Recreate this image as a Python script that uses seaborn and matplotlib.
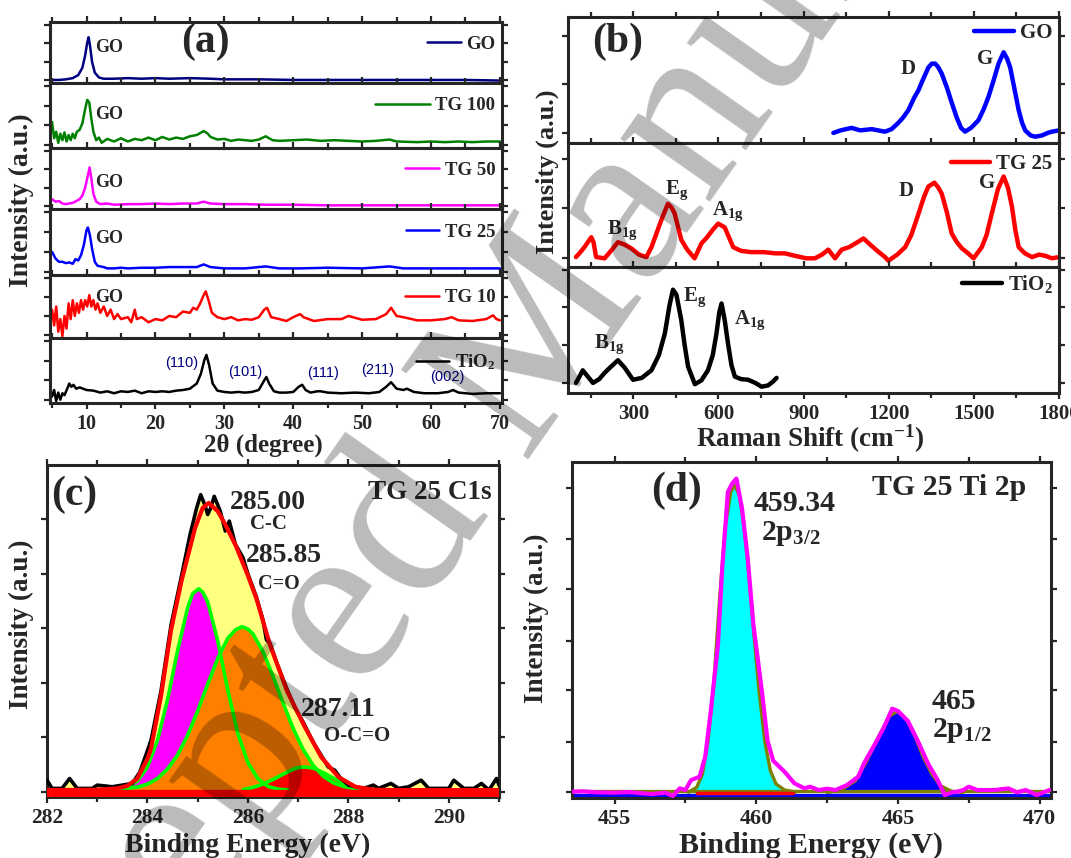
import matplotlib
matplotlib.use('Agg')
import matplotlib.pyplot as plt
import seaborn as sns
from matplotlib.ticker import MultipleLocator

# ---------------- data ----------------
# (a) XRD, each trace normalised to its own strip
xrd_go = [(5, .05), (6, .05), (7, .06), (8, .08), (8.8, .13), (9.4, .25), (9.8, .45), (10.1, .66), (10.3, .75),
          (10.5, .62), (10.8, .35), (11.2, .17), (11.8, .09), (12.5, .07), (14, .07), (16, .08), (18, .07), (20, .08),
          (22, .07), (25, .08), (28, .07), (30, .06), (35, .06), (40, .05), (45, .05), (50, .05), (55, .05), (60, .05),
          (65, .05), (70, .04)]
xrd_tg100 = [(5.0, .40), (5.3, .15), (5.6, .25), (5.9, .08), (6.2, .22), (6.5, .12), (6.8, .24), (7.1, .10), (7.4, .20),
             (7.7, .12), (8.0, .22), (8.3, .15), (8.6, .25), (9.0, .28), (9.4, .38), (9.8, .60), (10.1, .74), (10.4, .70),
             (10.7, .45), (11.0, .25), (11.4, .12), (11.8, .16), (12.2, .08), (13, .14), (14, .10), (15, .15), (16, .10),
             (17, .14), (18, .12), (19, .16), (20, .12), (21, .17), (22, .13), (23, .16), (24, .14), (25, .18), (26, .20),
             (27, .26), (27.5, .23), (28, .17), (29, .13), (30, .14), (31, .11), (32, .13), (33, .12), (34, .11), (35, .13),
             (36, .18), (37, .12), (38, .11), (40, .12), (42, .13), (44, .11), (46, .12), (48, .11), (50, .10), (52, .11),
             (54, .13), (55, .10), (58, .09), (60, .10), (62, .09), (64, .10), (66, .09), (68, .10), (70, .10)]
xrd_tg50 = [(5, .16), (5.5, .12), (6, .13), (6.5, .09), (7, .08), (7.5, .09), (8, .10), (8.5, .13), (9, .16), (9.4, .22),
            (9.8, .35), (10.2, .55), (10.45, .68), (10.7, .50), (11, .25), (11.4, .12), (12, .08), (13, .09), (14, .07),
            (16, .08), (18, .08), (20, .09), (22, .08), (24, .09), (26, .09), (27, .12), (28, .09), (30, .08), (33, .08),
            (36, .07), (40, .07), (45, .06), (50, .06), (55, .06), (60, .06), (65, .06), (70, .06)]
xrd_tg25 = [(5, .35), (5.5, .25), (6, .20), (6.5, .20), (7, .18), (7.5, .19), (8, .17), (8.4, .24), (8.8, .22), (9.2, .30),
            (9.6, .45), (10.0, .68), (10.2, .72), (10.5, .60), (10.8, .40), (11.2, .20), (11.6, .14), (12, .13),
            (12.5, .12), (13, .10), (14, .10), (15, .11), (16, .10), (18, .11), (20, .11), (22, .12), (24, .12), (26, .12),
            (27, .16), (28, .12), (30, .10), (33, .10), (36, .13), (38, .10), (41, .10), (45, .11), (50, .10), (54, .13),
            (56, .10), (60, .10), (65, .10), (70, .10)]
xrd_tg10 = [(5.0, .45), (5.3, .20), (5.6, .50), (5.9, .10), (6.2, .30), (6.5, .03), (6.8, .35), (7.1, .15), (7.4, .55),
            (7.7, .30), (8.0, .60), (8.3, .35), (8.6, .55), (8.9, .40), (9.2, .60), (9.5, .45), (9.8, .60), (10.1, .50),
            (10.4, .68), (10.7, .50), (11.0, .60), (11.3, .45), (11.6, .55), (12.0, .40), (12.5, .50), (13, .35),
            (13.5, .45), (14, .30), (14.5, .38), (15, .30), (16, .33), (16.5, .25), (17, .45), (17.3, .30), (18, .33),
            (19, .25), (20, .30), (21, .28), (22, .35), (23, .33), (24, .42), (25, .40), (25.5, .48), (26, .45),
            (26.5, .55), (27.0, .68), (27.3, .74), (27.7, .60), (28.2, .40), (29, .33), (30, .30), (31, .33), (32, .28),
            (33, .30), (34, .29), (35, .33), (35.8, .45), (36.2, .48), (36.8, .33), (38, .30), (39, .27), (40, .33),
            (41, .38), (41.5, .33), (43, .27), (45, .30), (47, .30), (48, .35), (50, .29), (52, .30), (53.5, .38),
            (54.2, .48), (55, .35), (56, .33), (58, .28), (60, .28), (62, .30), (63, .33), (64, .28), (66, .27), (68, .30),
            (69, .36), (69.5, .30), (70, .28)]
xrd_tio2 = [(5, .10), (5.3, .20), (5.6, .03), (5.9, .16), (6.2, .05), (6.5, .15), (6.8, .12), (7.2, .22), (7.5, .30),
            (7.8, .25), (8.1, .28), (8.5, .22), (9, .24), (10, .20), (11, .19), (12, .16), (13, .18), (14, .15), (15, .18),
            (16, .17), (17, .19), (18, .15), (19, .18), (20, .17), (21, .18), (22, .17), (23, .19), (24, .20), (25, .22),
            (26, .30), (26.6, .45), (27.1, .66), (27.4, .74), (27.8, .58), (28.3, .30), (29, .19), (30, .17), (31, .16),
            (32, .17), (33, .16), (34, .17), (35, .20), (35.8, .35), (36.1, .40), (36.5, .30), (37.2, .18), (38, .16),
            (39, .16), (40, .17), (40.8, .25), (41.3, .28), (41.8, .20), (42.5, .16), (43.5, .18), (44, .18), (45, .16),
            (47, .15), (49, .16), (51, .15), (52.5, .17), (53.5, .25), (54.2, .32), (55, .22), (56, .20), (56.5, .22),
            (57.5, .17), (59, .15), (61, .15), (62.5, .17), (63.2, .20), (64, .16), (66, .14), (68, .15), (70, .15)]
xrd_names = ['GO', 'TG 100', 'TG 50', 'TG 25', 'TG 10', 'TiO$_2$']
xrd_colors = ['#000080', '#008000', '#FF00FF', '#0000FF', '#FF0000', '#000000']
go_label_y = [0.59, 0.51, 0.44, 0.56, 0.65]
miller = ['(110)', '(101)', '(111)', '(211)', '(002)']
miller_x = [23.8, 33.0, 44.3, 52.3, 62.3]
miller_y = [0.62, 0.48, 0.46, 0.51, 0.40]

# (b) Raman
raman_go = [(1005, .08), (1030, .10), (1069, .12), (1100, .10), (1140, .11), (1187, .09), (1210, .11), (1234, .16),
            (1250, .20), (1269, .26), (1290, .36), (1305, .42), (1320, .50), (1340, .60), (1352, .63), (1364, .63),
            (1375, .60), (1387, .55), (1405, .44), (1422, .32), (1440, .20), (1455, .12), (1469, .09), (1490, .12),
            (1516, .18), (1535, .27), (1552, .37), (1570, .50), (1587, .63), (1605, .72), (1617, .67), (1628, .60),
            (1643, .43), (1658, .26), (1670, .16), (1681, .10), (1700, .06), (1716, .05), (1740, .06), (1760, .08),
            (1775, .09), (1800, .10)]
raman_tg25 = [(98, .08), (110, .11), (128, .16), (152, .24), (160, .20), (169, .08), (199, .07), (225, .14), (246, .20),
              (270, .18), (293, .15), (320, .10), (346, .08), (364, .16), (380, .26), (399, .38), (422, .51), (435, .48),
              (446, .43), (458, .32), (469, .22), (490, .14), (516, .07), (540, .19), (560, .24), (580, .30), (599, .35),
              (622, .32), (637, .24), (652, .16), (680, .13), (716, .12), (760, .12), (800, .11), (834, .11), (870, .09),
              (910, .07), (940, .07), (965, .10), (987, .14), (1011, .07), (1034, .14), (1060, .16), (1090, .20),
              (1111, .23), (1135, .18), (1160, .13), (1187, .08), (1199, .05), (1230, .10), (1258, .16), (1280, .26),
              (1305, .43), (1325, .57), (1340, .65), (1361, .68), (1375, .64), (1387, .59), (1405, .44), (1422, .27),
              (1440, .20), (1458, .15), (1480, .11), (1499, .07), (1515, .12), (1528, .16), (1545, .26), (1563, .43),
              (1585, .63), (1605, .73), (1620, .64), (1634, .49), (1646, .30), (1658, .16), (1680, .11), (1705, .08),
              (1730, .10), (1752, .09), (1775, .07), (1800, .08)]
raman_tio2 = [(98, .08), (108, .12), (122, .18), (140, .13), (158, .08), (180, .11), (199, .16), (222, .21), (246, .26),
              (270, .20), (299, .105), (330, .12), (364, .18), (390, .30), (411, .47), (428, .70), (440, .82), (452, .78),
              (469, .58), (481, .38), (493, .21), (517, .07), (540, .10), (563, .18), (580, .30), (593, .47), (603, .64),
              (611, .71), (622, .58), (634, .39), (646, .22), (658, .13), (680, .11), (705, .105), (730, .08), (752, .05),
              (775, .06), (792, .09), (805, .12)]
raman_names = ['GO', 'TG 25', 'TiO$_2$']
raman_colors = ['#0000FF', '#FF0000', '#000000']
raman_marks = [[('D', 1267, .59), ('G', 1538, .67)],
               [('D', 1263, .61), ('G', 1546, .68), ('E$_g$', 452, .62), ('A$_{1g}$', 634, .45), ('B$_{1g}$', 263, .30)],
               [('E$_g$', 516, .76), ('A$_{1g}$', 711, .58), ('B$_{1g}$', 216, .39)]]

# (c) XPS C1s
c1s_raw = [(282.0, .045), (282.1, .02), (282.3, .02), (282.45, .05), (282.6, .02), (282.9, .02), (283.0, .03),
           (283.3, .025), (283.5, .03), (283.7, .035), (283.85, .07), (284.07, .165), (284.27, .315), (284.47, .515),
           (284.68, .665), (284.85, .79), (284.98, .87), (285.06, .91), (285.14, .88), (285.2, .85), (285.26, .87),
           (285.33, .905), (285.45, .86), (285.55, .80), (285.63, .83), (285.75, .76), (285.9, .72), (286.0, .67),
           (286.17, .60), (286.3, .53), (286.37, .47), (286.44, .46), (286.6, .39), (286.78, .32), (286.95, .26),
           (287.05, .235), (287.12, .215), (287.3, .16), (287.46, .12), (287.6, .085), (287.73, .075), (287.85, .05),
           (288.0, .03), (288.14, .025), (288.3, .02), (288.5, .03), (288.6, .02), (288.85, .035), (289.0, .02),
           (289.2, .025), (289.45, .045), (289.6, .02), (290.0, .02), (290.1, .045), (290.3, .02), (290.5, .02),
           (290.65, .035), (290.8, .015), (290.95, .05), (291.0, .03)]
c1s_env = [(282.0, .015), (283.0, .016), (283.4, .02), (283.6, .028), (283.8, .05), (284.0, .11), (284.07, .14),
           (284.27, .30), (284.47, .50), (284.68, .65), (284.95, .81), (285.1, .87), (285.22, .885), (285.4, .86),
           (285.55, .82), (285.76, .755), (286.0, .665), (286.17, .595), (286.44, .455), (286.78, .315), (287.12, .21),
           (287.46, .115), (287.8, .055), (288.14, .025), (288.5, .016), (289.0, .015), (291.0, .015)]
c1s_cc = [(283.4, .018), (283.6, .024), (283.8, .042), (284.0, .085), (284.2, .166), (284.4, .289), (284.6, .437),
          (284.8, .567), (284.9, .610), (285.02, .625), (285.1, .615), (285.2, .585), (285.4, .467), (285.6, .318),
          (285.8, .186), (286.0, .098), (286.2, .049), (286.4, .026), (286.6, .018), (286.8, .015)]
c1s_co = [(283.4, .017), (283.8, .024), (284.0, .033), (284.2, .050), (284.4, .079), (284.6, .121), (284.8, .181),
          (285.0, .255), (285.2, .336), (285.4, .414), (285.6, .475), (285.75, .500), (285.88, .510), (286.0, .503),
          (286.1, .488), (286.3, .435), (286.5, .360), (286.7, .279), (286.9, .202), (287.1, .138), (287.3, .090),
          (287.5, .057), (287.7, .037), (287.9, .026), (288.2, .018), (288.6, .015)]
c1s_oco = [(285.9, .016), (286.1, .023), (286.3, .033), (286.5, .047), (286.7, .063), (286.9, .078), (287.0, .083),
           (287.13, .085), (287.25, .083), (287.35, .079), (287.55, .064), (287.75, .047), (287.95, .033), (288.15, .024),
           (288.4, .018), (288.7, .015)]
c1s_base = 0.015
c1s_range = [282.0, 291.0]

# (d) XPS Ti 2p
ti_raw = [(453.5, .007), (453.9, .008), (454.4, .005), (455.0, .004), (455.5, .006), (456.0, .002), (456.3, .0),
          (456.8, .004), (457.06, -.006), (457.3, .017), (457.5, .012), (457.7, .042), (458.0, .052), (458.2, .112),
          (458.4, .252), (458.65, .45), (458.8, .68), (459.0, .91), (459.15, .935), (459.3, .95), (459.5, .86),
          (459.7, .71), (459.9, .51), (460.2, .31), (460.4, .16), (460.6, .10), (461.0, .067), (461.35, .032),
          (461.7, .017), (461.9, .022), (462.2, .012), (462.5, .016), (462.8, .012), (463.2, .027), (463.6, .052),
          (463.8, .092), (464.2, .152), (464.5, .20), (464.8, .257), (465.0, .25), (465.35, .22), (465.7, .16),
          (466.06, .092), (466.4, .042), (466.65, -.003), (466.9, .005), (467.1, .007), (467.3, .012), (467.5, .022),
          (467.8, .012), (468.4, .012), (468.9, .017), (469.2, .005), (469.5, .012), (469.9, -.003), (470.35, .012)]
ti_p32 = [(457.6, .005), (457.9, .02), (458.1, .06), (458.3, .16), (458.5, .33), (458.7, .58), (458.9, .80),
          (459.1, .91), (459.25, .93), (459.4, .90), (459.55, .82), (459.7, .70), (459.9, .50), (460.1, .31),
          (460.3, .16), (460.5, .07), (460.7, .03), (461.0, .012), (461.4, .006)]
ti_p12 = [(462.5, .005), (463.0, .012), (463.5, .04), (463.9, .10), (464.3, .17), (464.7, .235), (465.0, .25),
          (465.3, .225), (465.6, .175), (465.9, .11), (466.2, .06), (466.5, .025), (466.9, .008), (467.3, .005)]
ti_base = 0.008
ti_range = [453.5, 470.4]
ti_red_range = [457.9, 461.3]

# ---------------- style ----------------
sns.set_style('ticks')
plt.rcParams['font.family'] = ['Liberation Serif', 'DejaVu Serif']
plt.rcParams['font.weight'] = 'bold'
plt.rcParams['axes.labelweight'] = 'bold'
plt.rcParams['mathtext.fontset'] = 'custom'
plt.rcParams['mathtext.rm'] = 'Liberation Serif:bold'
plt.rcParams['mathtext.it'] = 'Liberation Serif:bold'
plt.rcParams['mathtext.bf'] = 'Liberation Serif:bold'

W, H = 1071, 858
fig = plt.figure(figsize=(W / 100, H / 100), dpi=100)


def rect(l, t, r, b):
    return [l / W, 1 - b / H, (r - l) / W, (b - t) / H]


def ftext(x, y, s, **kw):
    fig.text(x / W, 1 - y / H, s, **kw)


def style(ax, size=15):
    for sp in ax.spines.values():
        sp.set_linewidth(2.2)
    ax.tick_params(which='both', direction='out', width=1.6, top=True, right=True, labelsize=size)
    ax.tick_params(which='major', length=4.5)
    ax.tick_params(which='minor', length=3.5)


def xy(pairs):
    return [p[0] for p in pairs], [p[1] for p in pairs]


# ---------------- (a) XRD ----------------
strips = [22, 83, 148, 209, 275, 338, 403]
xrd_all = [xrd_go, xrd_tg100, xrd_tg50, xrd_tg25, xrd_tg10, xrd_tio2]
for i, data in enumerate(xrd_all):
    ax = fig.add_axes(rect(50, strips[i], 502, strips[i + 1]))
    x, y = xy(data)
    sns.lineplot(x=x, y=y, ax=ax, color=xrd_colors[i], lw=1.8, sort=False, label=xrd_names[i])
    ax.set_xlim(4.7, 70.3)
    ax.set_ylim(0, 1)
    ax.xaxis.set_major_locator(MultipleLocator(10))
    ax.xaxis.set_minor_locator(MultipleLocator(5))
    ax.set_yticks([0.05, 0.35, 0.65, 0.95])
    ax.set_yticklabels([])
    style(ax, 14.5)
    if i < 5:
        ax.tick_params(labelbottom=False)
        ax.text(11.3, go_label_y[i], 'GO', fontsize=13, va='center', ha='left')
    ax.legend(loc='upper right', bbox_to_anchor=(1.0, 0.88), frameon=False, fontsize=13.5,
              handlelength=2.9 if i == 1 else 1.8, handletextpad=0.3, borderaxespad=0.15, borderpad=0.2)
    if i == 5:
        for lab, mx, my in zip(miller, miller_x, miller_y):
            ax.text(mx, my, lab, color='#000080', fontsize=10.5, family='Liberation Sans', weight='normal',
                    ha='center', va='center')
ftext(205, 42, '(a)', fontsize=30, ha='center', va='center')
ftext(263, 445, '2θ (degree)', fontsize=18, ha='center', va='center')
ftext(21, 200, 'Intensity (a.u.)', fontsize=20, rotation=90, ha='center', va='center')

# ---------------- (b) Raman ----------------
bstrips = [17, 143, 267, 393]
raman_all = [raman_go, raman_tg25, raman_tio2]
raman_ticks = [[0.08, 0.465, 0.85], [0.076, 0.473, 0.87], [0.08, 0.38, 0.68, 0.98]]
for i, data in enumerate(raman_all):
    ax = fig.add_axes(rect(568, bstrips[i], 1059, bstrips[i + 1]))
    x, y = xy(data)
    sns.lineplot(x=x, y=y, ax=ax, color=raman_colors[i], lw=3.2, sort=False, label=raman_names[i])
    ax.set_xlim(70, 1800)
    ax.set_ylim(0, 1)
    ax.xaxis.set_major_locator(MultipleLocator(300))
    ax.xaxis.set_minor_locator(MultipleLocator(150))
    ax.set_yticks(raman_ticks[i])
    ax.set_yticklabels([])
    style(ax, 15)
    if i < 2:
        ax.tick_params(labelbottom=False)
    for lab, mx, my in raman_marks[i]:
        ax.text(mx, my, lab, fontsize=15, ha='center', va='center')
    ax.legend(loc='upper right', bbox_to_anchor=(1.0, 1.0 if i != 1 else 0.96), frameon=False, fontsize=15,
              handlelength=1.9, handletextpad=0.3, borderaxespad=0.1, borderpad=0.2)
ftext(618, 42, '(b)', fontsize=30, ha='center', va='center')
ftext(810, 439, 'Raman Shift (cm$^{-1}$)', fontsize=19.5, ha='center', va='center')
ftext(547, 172, 'Intensity (a.u.)', fontsize=19, rotation=90, ha='center', va='center')

# ---------------- (c) C1s ----------------
ax = fig.add_axes(rect(47, 465, 499, 797))
rx, ry = xy(c1s_raw)
ax.fill_between(rx, ry, 0.005, color='#FFFF80', lw=0, zorder=1)
for comp, col in [(c1s_cc, '#FF00FF'), (c1s_co, '#FF8000'), (c1s_oco, '#FF0000')]:
    cx, cy = xy(comp)
    ax.fill_between(cx, cy, c1s_base, color=col, lw=0, zorder=2)
for comp in [c1s_cc, c1s_co, c1s_oco]:
    cx, cy = xy(comp)
    sns.lineplot(x=cx, y=cy, ax=ax, color='#00FF00', lw=2.6, sort=False, zorder=3)
sns.lineplot(x=c1s_range, y=[0.004, 0.004], ax=ax, color='#FF0000', lw=6, zorder=3)
sns.lineplot(x=rx, y=ry, ax=ax, color='black', lw=2.6, sort=False, zorder=4)
ex, ey = xy(c1s_env)
sns.lineplot(x=ex, y=ey, ax=ax, color='#FF0000', lw=3, sort=False, zorder=5)
ax.set_xlim(282, 291)
ax.set_ylim(-0.006, 1.0)
ax.xaxis.set_major_locator(MultipleLocator(2))
ax.xaxis.set_minor_locator(MultipleLocator(1))
ax.set_yticks([0.01, 0.175, 0.34, 0.505, 0.67, 0.835])
ax.set_yticklabels([])
style(ax, 15.5)
ax.text(282.55, 0.91, '(c)', fontsize=30, ha='center', va='center')
ax.text(289.63, 0.917, 'TG 25 C1s', fontsize=19.5, ha='center', va='center')
ax.text(286.40, 0.887, '285.00', fontsize=20, ha='center', va='center')
ax.text(286.40, 0.82, 'C-C', fontsize=15, ha='center', va='center')
ax.text(286.71, 0.725, '285.85', fontsize=20, ha='center', va='center')
ax.text(286.61, 0.64, 'C=O', fontsize=14.5, ha='center', va='center')
ax.text(287.79, 0.26, '287.11', fontsize=20, ha='center', va='center')
ax.text(288.18, 0.18, 'O-C=O', fontsize=15, ha='center', va='center')
ftext(248, 845, 'Binding Energy (eV)', fontsize=20, ha='center', va='center')
ftext(21, 624, 'Intensity (a.u.)', fontsize=19.5, rotation=90, ha='center', va='center')

# ---------------- (d) Ti 2p ----------------
ax = fig.add_axes(rect(572, 462, 1051, 798))
for comp, col in [(ti_p32, '#00FFFF'), (ti_p12, '#0000FF')]:
    cx, cy = xy(comp)
    ax.fill_between(cx, cy, 0.004, color=col, lw=0, zorder=2)
    sns.lineplot(x=cx, y=cy, ax=ax, color='#808000', lw=2.4, sort=False, zorder=3)
sns.lineplot(x=ti_range, y=[-0.006, -0.006], ax=ax, color='#0000FF', lw=3, zorder=2)
sns.lineplot(x=ti_range, y=[ti_base, ti_base], ax=ax, color='#808000', lw=2.4, zorder=2)
sns.lineplot(x=ti_red_range, y=[0.003, 0.003], ax=ax, color='#FF0000', lw=2.5, zorder=3)
tx, ty = xy(ti_raw)
sns.lineplot(x=tx, y=ty, ax=ax, color='#FF00FF', lw=3, sort=False, zorder=5)
ax.set_xlim(453.5, 470.4)
ax.set_ylim(-0.012, 1.0)
ax.xaxis.set_major_locator(MultipleLocator(5))
ax.xaxis.set_minor_locator(MultipleLocator(2.5))
ax.set_yticks([0.007, 0.157, 0.312, 0.462, 0.617, 0.767, 0.922])
ax.set_yticklabels([])
style(ax, 16)
ax.text(457.18, 0.913, '(d)', fontsize=30, ha='center', va='center')
ax.text(466.81, 0.922, 'TG 25 Ti 2p', fontsize=21.5, ha='center', va='center')
ax.text(461.34, 0.874, '459.34', fontsize=21.5, ha='center', va='center')
ax.text(461.23, 0.784, '2p$_{3/2}$', fontsize=21.5, ha='center', va='center')
ax.text(466.99, 0.278, '465', fontsize=21.5, ha='center', va='center')
ax.text(467.24, 0.19, '2p$_{1/2}$', fontsize=21.5, ha='center', va='center')
ftext(811, 845, 'Binding Energy (eV)', fontsize=21.5, ha='center', va='center')
ftext(536, 618, 'Intensity (a.u.)', fontsize=19.5, rotation=90, ha='center', va='center')

# watermark
ftext(514, 380, 'Accepted Manuscript', fontsize=171, rotation=54.9, rotation_mode='anchor', color='black',
      alpha=0.27, ha='center', va='center', weight='normal', zorder=10)

fig.savefig('out.png', dpi=100)
